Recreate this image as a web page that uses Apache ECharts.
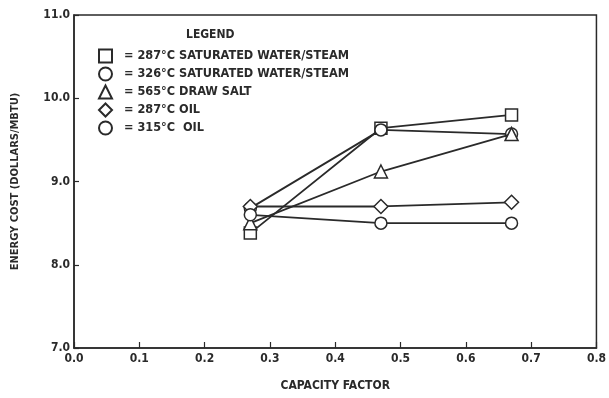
<!DOCTYPE html>
<html><head><meta charset="utf-8">
<script src="https://cdn.jsdelivr.net/npm/echarts@6/dist/echarts.min.js"></script>
<style>html,body{margin:0;padding:0;background:#fff}#c{width:609px;height:398px}</style>
</head><body><div id="c"></div>
<script>
const xValues = [0.27, 0.47, 0.67];
const seriesNames = ['= 287°C SATURATED WATER/STEAM', '= 326°C SATURATED WATER/STEAM', '= 565°C DRAW SALT', '= 287°C OIL', '= 315°C  OIL'];
const sat287 = [8.38, 9.64, 9.80];
const sat326 = [8.68, 9.62, 9.57];
const salt565 = [8.50, 9.12, 9.57];
const oil287 = [8.70, 8.70, 8.75];
const oil315 = [8.60, 8.50, 8.50];
const symbols = ['rect', 'circle', 'triangle', 'diamond', 'circle'];
const xTicks = ['0.0','0.1','0.2','0.3','0.4','0.5','0.6','0.7','0.8'];
const yTicks = ['7.0','8.0','9.0','10.0','11.0'];

const FONT = '"Liberation Sans Narrow", "DejaVu Sans Condensed", sans-serif';
const INK = '#2a2a2a';
const allData = [sat287, sat326, salt565, oil287, oil315];
const chart = echarts.init(document.getElementById('c'));
chart.setOption({
  animation: false,
  backgroundColor: '#fff',
  grid: {left: 74, right: 9, top: 15, bottom: 50, show: true, borderColor: INK, borderWidth: 1.5},
  title: {text: 'LEGEND', left: 181, top: 24, textStyle: {fontFamily: FONT, fontWeight: 'bold', fontSize: 12, color: INK}},
  legend: {
    orient: 'vertical', left: 93, top: 43.5, itemGap: 3, itemWidth: 13, itemHeight: 13,
    textStyle: {fontFamily: FONT, fontWeight: 'bold', fontSize: 12.6, color: INK, padding: [0, 0, 0, 7]},
    data: seriesNames.map((n, i) => ({name: n, icon: symbols[i]}))
  },
  xAxis: {
    type: 'value', min: 0, max: 0.8, interval: 0.1,
    name: 'CAPACITY FACTOR', nameLocation: 'middle', nameGap: 32,
    nameTextStyle: {fontFamily: FONT, fontWeight: 'bold', fontSize: 12, color: INK},
    axisLine: {lineStyle: {color: INK, width: 1.5}},
    axisTick: {inside: true, length: 6, lineStyle: {color: INK, width: 1.2}},
    splitLine: {show: false},
    axisLabel: {fontFamily: FONT, fontWeight: 'bold', fontSize: 12, color: INK, margin: 5,
      formatter: v => xTicks[Math.round(v * 10)]}
  },
  yAxis: {
    type: 'value', min: 7, max: 11, interval: 1,
    name: 'ENERGY COST (DOLLARS/MBTU)', nameLocation: 'middle', nameGap: 53,
    nameTextStyle: {fontFamily: FONT, fontWeight: 'bold', fontSize: 11, color: INK},
    axisLine: {lineStyle: {color: INK, width: 1.5}},
    axisTick: {inside: true, length: 5, lineStyle: {color: INK, width: 1.2}},
    splitLine: {show: false},
    axisLabel: {fontFamily: FONT, fontWeight: 'bold', fontSize: 12, color: INK, margin: 4,
      formatter: v => yTicks[Math.round(v - 7)]}
  },
  series: allData.map((d, i) => ({
    name: seriesNames[i], type: 'line',
    data: d.map((y, j) => [xValues[j], y]),
    symbol: symbols[i], symbolSize: symbols[i] === 'triangle' ? 13 : (symbols[i] === 'diamond' ? 14 : 12),
    lineStyle: {color: INK, width: 1.8},
    itemStyle: {color: '#fff', borderColor: INK, borderWidth: 1.5},
    z: 2 + i
  }))
});
</script></body></html>
